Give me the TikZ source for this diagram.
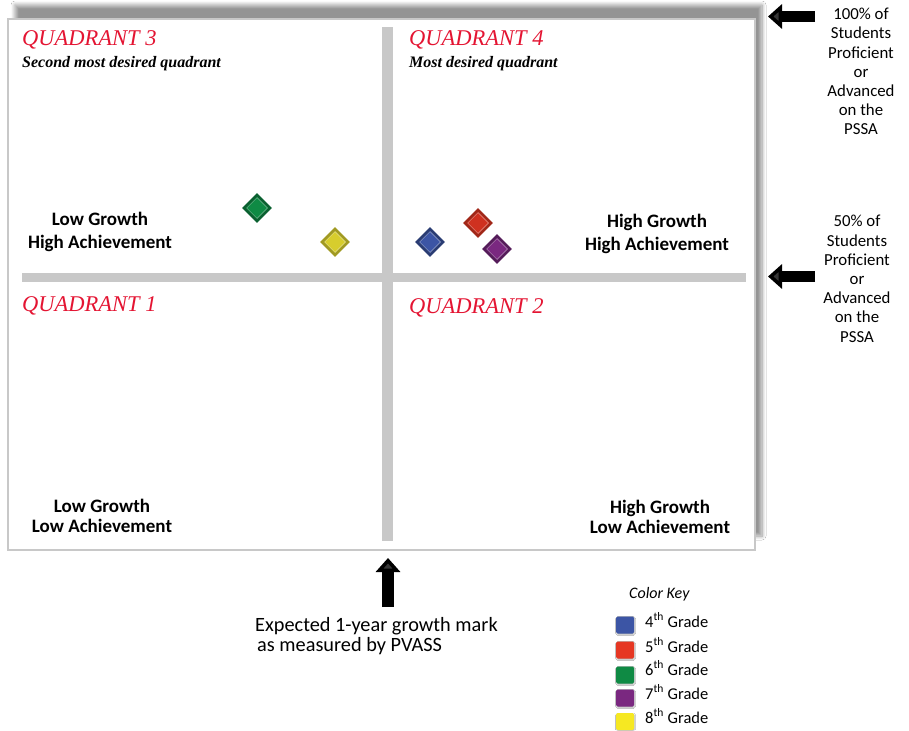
\documentclass[tikz,border=0pt]{standalone}
\usepackage{fontspec}
\setmainfont{Carlito}
\newfontfamily\quadfont{Liberation Serif}
\usetikzlibrary{shapes.geometric,arrows.meta,shadows.blur}
\definecolor{quadred}{RGB}{228,20,50}
\definecolor{bargray}{RGB}{200,200,200}
\definecolor{gradefour}{RGB}{60,85,165}
\definecolor{gradefive}{RGB}{230,55,35}
\definecolor{gradesix}{RGB}{15,138,68}
\definecolor{gradeseven}{RGB}{122,40,128}
\definecolor{gradeeight}{RGB}{246,232,34}
\definecolor{gemyellow}{RGB}{215,205,45}
\tikzset{
	quadlabel/.style={anchor=base west, inner sep=0pt, text=quadred, font=\quadfont\itshape\fontsize{22.5}{26}\selectfont},
	sublabel/.style={anchor=base west, inner sep=0pt, font=\quadfont\bfseries\itshape\fontsize{16}{18}\selectfont},
	zonelabel/.style={anchor=base, inner sep=0pt, align=center, font=\bfseries\fontsize{19}{23}\selectfont},
	sidelabel/.style={anchor=base, inner sep=0pt, align=center, font=\fontsize{16.8}{19.2}\selectfont},
	blockarrow/.style={line width=11.5pt, -{Triangle[length=14pt,width=24pt]}},
	gem/.style={diamond, inner sep=0pt, minimum width=30pt, minimum height=30pt},
	geminner/.style={diamond, inner sep=0pt, minimum width=21pt, minimum height=21pt, line width=0.5pt},
	keybox/.style={minimum width=18pt, minimum height=17pt, inner sep=0pt, rounded corners=1.5pt, blur shadow={shadow xshift=0.6pt, shadow yshift=-1pt, shadow blur radius=1pt, shadow opacity=30}},
	keylabel/.style={anchor=base west, inner sep=0pt, font=\fontsize{16.5}{19}\selectfont}
}
\begin{document}
\begin{tikzpicture}[x=1pt, y=-1pt]
	\useasboundingbox (0,0) rectangle (909,730);
	\fill[white] (0,0) rectangle (909,730);
	\draw[draw=bargray, line width=2pt, fill=white, blur shadow={shadow xshift=7pt, shadow yshift=14pt, shadow blur radius=4pt, shadow blur steps=8, shadow opacity=42}] (8,19) rectangle (755,550);
	\fill[bargray] (22,273) rectangle (746,282);
	\fill[bargray] (382,27) rectangle (393,541);
	\node[quadlabel] (q3) at (22,46) {QUADRANT 3};
	\node[sublabel] (q3sub) at (22,68) {Second most desired quadrant};
	\node[quadlabel] (q4) at (409,46) {QUADRANT 4};
	\node[sublabel] (q4sub) at (409,68) {Most desired quadrant};
	\node[quadlabel] (q1) at (22,311) {QUADRANT 1};
	\node[quadlabel] (q2) at (409,313) {QUADRANT 2};
	\node[zonelabel] (lgha) at (100,248) {Low Growth\\High Achievement};
	\node[zonelabel] (hgha) at (657,250) {High Growth\\High Achievement};
	\node[zonelabel, font=\bfseries\fontsize{19}{20}\selectfont] (lgla) at (102,532) {Low Growth\\Low Achievement};
	\node[zonelabel, font=\bfseries\fontsize{19}{20}\selectfont] (hgla) at (660,533) {High Growth\\Low Achievement};
	\node[gem, fill=gradesix!70!black] (g6) at (257,208) {};
	\node[geminner, fill=gradesix, draw=gradesix!55!white] (g6i) at (g6) {};
	\node[gem, fill=gemyellow!75!black] (g8) at (335,242) {};
	\node[geminner, fill=gemyellow, draw=gemyellow!50!white] (g8i) at (g8) {};
	\node[gem, fill=gradefour!70!black] (g4) at (430,242) {};
	\node[geminner, fill=gradefour, draw=gradefour!50!white] (g4i) at (g4) {};
	\node[gem, fill=gradefive!70!black] (g5) at (478,223) {};
	\node[geminner, fill=gradefive!90!black, draw=gradefive!50!white] (g5i) at (g5) {};
	\node[gem, fill=gradeseven!70!black] (g7) at (497,249) {};
	\node[geminner, fill=gradeseven, draw=gradeseven!50!white] (g7i) at (g7) {};
	\node[sidelabel] (topnote) at (861,135) {100\% of\\Students\\Proficient\\or\\Advanced\\on the\\PSSA};
	\node[sidelabel] (midnote) at (857,342) {50\% of\\Students\\Proficient\\or\\Advanced\\on the\\PSSA};
	\coordinate (toptail) at (815,16.5);
	\coordinate (toptip) at (768,16.5);
	\coordinate (midtail) at (815,276.5);
	\coordinate (midtip) at (768,276.5);
	\draw[blockarrow] (toptail) -- (toptip);
	\draw[blockarrow] (midtail) -- (midtip);
	\coordinate (growtail) at (388,607);
	\coordinate (growtip) at (388,558);
	\draw[blockarrow] (growtail) -- (growtip);
	\node[anchor=base west, inner sep=0pt, align=left, font=\fontsize{20.3}{19.5}\selectfont] (expect) at (255,651) {Expected 1-year growth mark\\\hspace*{2pt}as measured by PVASS};
	\node[anchor=base west, inner sep=0pt, font=\itshape\fontsize{16}{19}\selectfont] (keytitle) at (629,598) {Color Key};
	\node[keybox, fill=gradefour] (k4) at (625,625) {};
	\node[keylabel] (k4t) at (645,627) {4\textsuperscript{th} Grade};
	\node[keybox, fill=gradefive] (k5) at (625,650) {};
	\node[keylabel] (k5t) at (645,652) {5\textsuperscript{th} Grade};
	\node[keybox, fill=gradesix] (k6) at (625,675) {};
	\node[keylabel] (k6t) at (645,675) {6\textsuperscript{th} Grade};
	\node[keybox, fill=gradeseven] (k7) at (625,698) {};
	\node[keylabel] (k7t) at (645,699) {7\textsuperscript{th} Grade};
	\node[keybox, fill=gradeeight] (k8) at (625,721.5) {};
	\node[keylabel] (k8t) at (645,723) {8\textsuperscript{th} Grade};
\end{tikzpicture}
\end{document}
